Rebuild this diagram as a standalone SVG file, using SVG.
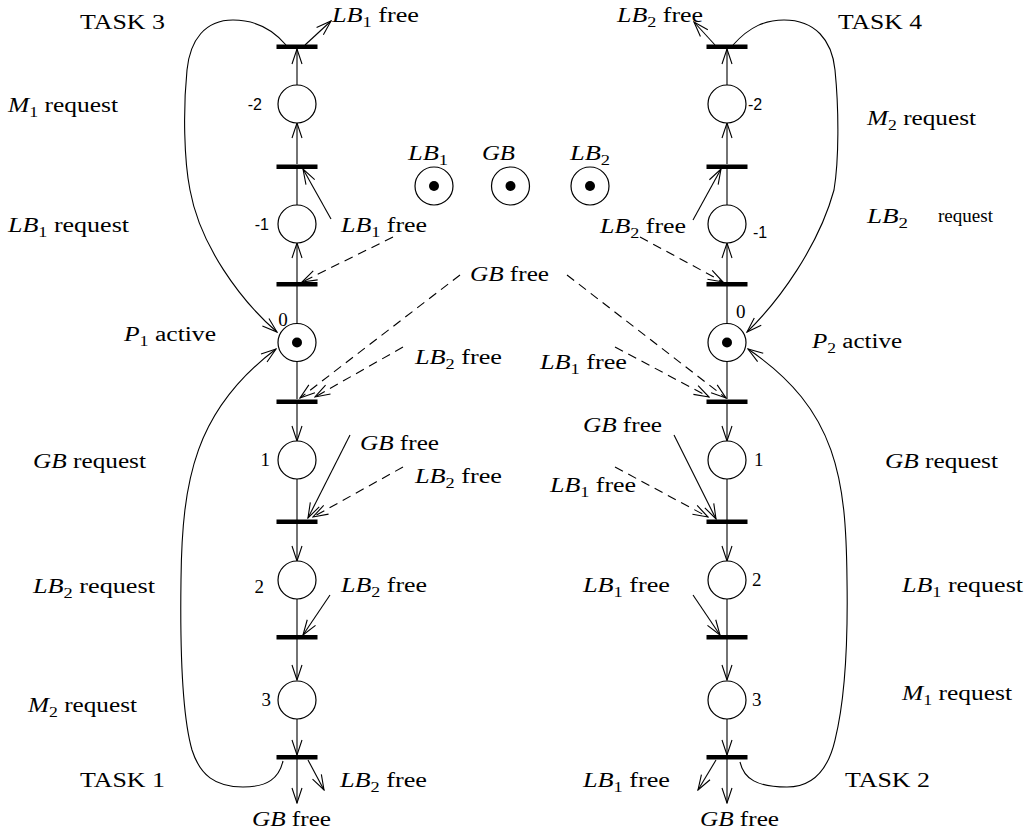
<svg xmlns="http://www.w3.org/2000/svg" width="1030" height="838" viewBox="0 0 1030 838">
<style>
.t{font-family:"Liberation Serif",serif;font-size:20px;fill:#000}
.i{font-style:italic}
.s{font-size:14px}
.n{font-family:"Liberation Serif",serif;font-size:19px;fill:#000}
.ns{font-family:"Liberation Sans",sans-serif;font-size:16px;fill:#000}
.r{font-family:"Liberation Serif",serif;font-size:19px;fill:#000}
.pl{fill:#fff;stroke:#000;stroke-width:1.2}
.tr{fill:#000}
.tok{fill:#000}
.e{fill:none;stroke:#000;stroke-width:1.1}
.a{marker-end:url(#ah)}
.d{stroke-dasharray:9,6}
</style>
<defs>
<marker id="ah" viewBox="-17 -7 18 14" refX="0" refY="0" markerWidth="18" markerHeight="14" markerUnits="userSpaceOnUse" orient="auto">
<path d="M-15,-5 L0,0 L-15,5" fill="none" stroke="#000" stroke-width="1.1"/>
</marker>
</defs>
<g id="connectors">
<path class="e a" d="M286,45 C270,26 252,20 233,20 C205,20 190,40 187,70 C183,110 184,160 190,190 C200,245 240,300 277,332"/>
<path class="e a" d="M283,761 C279,778 268,787 243,787 C215,787 200,775 192,750 C182,715 180,650 181,580 C182,480 195,410 276,349"/>
<path class="e a" d="M733,45 C750,26 766,20 784,20 C815,20 832,40 835,70 C839,110 839,160 834,190 C819,245 780,300 747,332"/>
<path class="e a" d="M740,762 C744,779 757,787 787,787 C812,787 828,770 835,740 C845,700 848,640 847,580 C846,480 838,410 748,349"/>
<line class="e a" x1="297" y1="85" x2="297" y2="49"/>
<line class="e a" x1="297" y1="164" x2="297" y2="123"/>
<line class="e" x1="297" y1="205" x2="297" y2="169"/>
<line class="e a" x1="297" y1="282" x2="297" y2="243"/>
<line class="e" x1="297" y1="323" x2="297" y2="286"/>
<line class="e" x1="297" y1="362" x2="297" y2="399"/>
<line class="e a" x1="297" y1="404" x2="297" y2="441"/>
<line class="e" x1="297" y1="479" x2="297" y2="520"/>
<line class="e a" x1="297" y1="524" x2="297" y2="561"/>
<line class="e" x1="297" y1="599" x2="297" y2="635"/>
<line class="e a" x1="297" y1="639" x2="297" y2="680"/>
<line class="e a" x1="297" y1="719" x2="297" y2="755"/>
<line class="e a" x1="297" y1="759" x2="297" y2="803"/>
<line class="e a" x1="727" y1="85" x2="727" y2="49"/>
<line class="e a" x1="727" y1="164" x2="727" y2="123"/>
<line class="e" x1="727" y1="205" x2="727" y2="169"/>
<line class="e a" x1="727" y1="282" x2="727" y2="243"/>
<line class="e" x1="727" y1="323" x2="727" y2="286"/>
<line class="e" x1="727" y1="362" x2="727" y2="399"/>
<line class="e a" x1="727" y1="404" x2="727" y2="441"/>
<line class="e" x1="727" y1="479" x2="727" y2="520"/>
<line class="e a" x1="727" y1="524" x2="727" y2="561"/>
<line class="e" x1="727" y1="599" x2="727" y2="635"/>
<line class="e a" x1="727" y1="639" x2="727" y2="680"/>
<line class="e a" x1="727" y1="719" x2="727" y2="755"/>
<line class="e a" x1="727" y1="759" x2="727" y2="803"/>
<line class="e a" x1="305" y1="45" x2="331" y2="21"/>
<line class="e a" x1="331" y1="219" x2="303" y2="169"/>
<line class="e d a" x1="393" y1="237" x2="302" y2="282"/>
<line class="e d a" x1="460" y1="275" x2="300" y2="398"/>
<line class="e d a" x1="403" y1="347" x2="315" y2="397"/>
<line class="e a" x1="350" y1="435" x2="308" y2="518"/>
<line class="e d a" x1="403" y1="467" x2="313" y2="517"/>
<line class="e a" x1="330" y1="595" x2="303" y2="635"/>
<line class="e a" x1="308" y1="760" x2="324" y2="790"/>
<line class="e a" x1="715" y1="45" x2="694" y2="22"/>
<line class="e a" x1="693" y1="220" x2="721" y2="169"/>
<line class="e d a" x1="640" y1="237" x2="723" y2="282"/>
<line class="e d a" x1="567" y1="275" x2="726" y2="398"/>
<line class="e d a" x1="615" y1="347" x2="709" y2="397"/>
<line class="e a" x1="674" y1="435" x2="716" y2="519"/>
<line class="e d a" x1="615" y1="467" x2="708" y2="517"/>
<line class="e a" x1="693" y1="595" x2="720" y2="635"/>
<line class="e a" x1="716" y1="760" x2="698" y2="790"/>
</g>
<g id="t1_top"><rect class="tr" x="276.5" y="44.5" width="41" height="4.5"/></g>
<g id="p1_m2"><circle class="pl" cx="297" cy="104" r="19"/><text class="ns" x="262" y="110" text-anchor="end">-2</text></g>
<g id="t1_m2"><rect class="tr" x="276.5" y="164.5" width="41" height="4.5"/></g>
<g id="p1_m1"><circle class="pl" cx="297" cy="224" r="19"/><text class="ns" x="269" y="230" text-anchor="end">-1</text></g>
<g id="t1_m1"><rect class="tr" x="276.5" y="282" width="41" height="4.5"/></g>
<g id="p1_0"><circle class="pl" cx="297" cy="342.5" r="19"/><circle class="tok" cx="297" cy="342.5" r="5"/><text class="n" x="283" y="326" text-anchor="middle">0</text></g>
<g id="t1_0"><rect class="tr" x="276.5" y="399.5" width="41" height="4.5"/></g>
<g id="p1_1"><circle class="pl" cx="297" cy="460" r="19"/><text class="n" x="270" y="466" text-anchor="end">1</text></g>
<g id="t1_1"><rect class="tr" x="276.5" y="519.5" width="41" height="4.5"/></g>
<g id="p1_2"><circle class="pl" cx="297" cy="580" r="19"/><text class="n" x="264" y="593" text-anchor="end">2</text></g>
<g id="t1_2"><rect class="tr" x="276.5" y="635" width="41" height="4.5"/></g>
<g id="p1_3"><circle class="pl" cx="297" cy="700" r="19"/><text class="n" x="271" y="706" text-anchor="end">3</text></g>
<g id="t1_3"><rect class="tr" x="276.5" y="755" width="41" height="4.5"/></g>
<g id="t2_top"><rect class="tr" x="706.5" y="44.5" width="41" height="4.5"/></g>
<g id="p2_m2"><circle class="pl" cx="727" cy="104" r="19"/><text class="ns" x="748" y="110">-2</text></g>
<g id="t2_m2"><rect class="tr" x="706.5" y="164.5" width="41" height="4.5"/></g>
<g id="p2_m1"><circle class="pl" cx="727" cy="224" r="19"/><text class="ns" x="753" y="238">-1</text></g>
<g id="t2_m1"><rect class="tr" x="706.5" y="282" width="41" height="4.5"/></g>
<g id="p2_0"><circle class="pl" cx="727" cy="342.5" r="19"/><circle class="tok" cx="727" cy="342.5" r="5"/><text class="n" x="736" y="318">0</text></g>
<g id="t2_0"><rect class="tr" x="706.5" y="399.5" width="41" height="4.5"/></g>
<g id="p2_1"><circle class="pl" cx="727" cy="460" r="19"/><text class="n" x="754" y="466">1</text></g>
<g id="t2_1"><rect class="tr" x="706.5" y="519.5" width="41" height="4.5"/></g>
<g id="p2_2"><circle class="pl" cx="727" cy="580" r="19"/><text class="n" x="752" y="586">2</text></g>
<g id="t2_2"><rect class="tr" x="706.5" y="635" width="41" height="4.5"/></g>
<g id="p2_3"><circle class="pl" cx="727" cy="700" r="19"/><text class="n" x="752" y="706">3</text></g>
<g id="t2_3"><rect class="tr" x="706.5" y="755" width="41" height="4.5"/></g>
<g id="res_LB1"><circle class="pl" cx="434" cy="186" r="19"/><circle class="tok" cx="434" cy="186" r="5"/><text class="t" x="408" y="160" textLength="40" lengthAdjust="spacingAndGlyphs"><tspan class="i">LB</tspan><tspan class="s" dy="5">1</tspan></text></g>
<g id="res_GB"><circle class="pl" cx="510.5" cy="186" r="19"/><circle class="tok" cx="510.5" cy="186" r="5"/><text class="t i" x="482" y="160" textLength="33" lengthAdjust="spacingAndGlyphs">GB</text></g>
<g id="res_LB2"><circle class="pl" cx="590" cy="186" r="19"/><circle class="tok" cx="590" cy="186" r="5"/><text class="t" x="570" y="160" textLength="40" lengthAdjust="spacingAndGlyphs"><tspan class="i">LB</tspan><tspan class="s" dy="5">2</tspan></text></g>
<g id="labels">
<text class="t" x="80" y="29" textLength="85" lengthAdjust="spacingAndGlyphs">TASK 3</text>
<text class="t" x="838" y="29" textLength="84" lengthAdjust="spacingAndGlyphs">TASK 4</text>
<text class="t" x="80" y="787" textLength="85" lengthAdjust="spacingAndGlyphs">TASK 1</text>
<text class="t" x="845" y="787" textLength="85" lengthAdjust="spacingAndGlyphs">TASK 2</text>
<text class="t" x="8" y="112" textLength="110" lengthAdjust="spacingAndGlyphs"><tspan class="i">M</tspan><tspan class="s" dy="5">1</tspan><tspan dy="-5"> request</tspan></text>
<text class="t" x="8" y="232" textLength="121" lengthAdjust="spacingAndGlyphs"><tspan class="i">LB</tspan><tspan class="s" dy="5">1</tspan><tspan dy="-5"> request</tspan></text>
<text class="t" x="124" y="341" textLength="92" lengthAdjust="spacingAndGlyphs"><tspan class="i">P</tspan><tspan class="s" dy="5">1</tspan><tspan dy="-5"> active</tspan></text>
<text class="t" x="33" y="468" textLength="113" lengthAdjust="spacingAndGlyphs"><tspan class="i">GB</tspan> request</text>
<text class="t" x="33" y="593" textLength="122" lengthAdjust="spacingAndGlyphs"><tspan class="i">LB</tspan><tspan class="s" dy="5">2</tspan><tspan dy="-5"> request</tspan></text>
<text class="t" x="28" y="712" textLength="109" lengthAdjust="spacingAndGlyphs"><tspan class="i">M</tspan><tspan class="s" dy="5">2</tspan><tspan dy="-5"> request</tspan></text>
<text class="t" x="867" y="125" textLength="109" lengthAdjust="spacingAndGlyphs"><tspan class="i">M</tspan><tspan class="s" dy="5">2</tspan><tspan dy="-5"> request</tspan></text>
<text class="t" x="867" y="223" textLength="41" lengthAdjust="spacingAndGlyphs"><tspan class="i">LB</tspan><tspan class="s" dy="5">2</tspan></text>
<text class="r" x="938" y="222" textLength="55" lengthAdjust="spacingAndGlyphs">request</text>
<text class="t" x="812" y="348" textLength="90" lengthAdjust="spacingAndGlyphs"><tspan class="i">P</tspan><tspan class="s" dy="5">2</tspan><tspan dy="-5"> active</tspan></text>
<text class="t" x="885" y="468" textLength="113" lengthAdjust="spacingAndGlyphs"><tspan class="i">GB</tspan> request</text>
<text class="t" x="902" y="592" textLength="121" lengthAdjust="spacingAndGlyphs"><tspan class="i">LB</tspan><tspan class="s" dy="5">1</tspan><tspan dy="-5"> request</tspan></text>
<text class="t" x="902" y="700" textLength="110" lengthAdjust="spacingAndGlyphs"><tspan class="i">M</tspan><tspan class="s" dy="5">1</tspan><tspan dy="-5"> request</tspan></text>
</g>
<g id="free_labels">
<text class="t" x="332" y="22" textLength="87" lengthAdjust="spacingAndGlyphs"><tspan class="i">LB</tspan><tspan class="s" dy="5">1</tspan><tspan dy="-5"> free</tspan></text>
<text class="t" x="617" y="22" textLength="86" lengthAdjust="spacingAndGlyphs"><tspan class="i">LB</tspan><tspan class="s" dy="5">2</tspan><tspan dy="-5"> free</tspan></text>
<text class="t" x="341" y="232" textLength="86" lengthAdjust="spacingAndGlyphs"><tspan class="i">LB</tspan><tspan class="s" dy="5">1</tspan><tspan dy="-5"> free</tspan></text>
<text class="t" x="600" y="233" textLength="86" lengthAdjust="spacingAndGlyphs"><tspan class="i">LB</tspan><tspan class="s" dy="5">2</tspan><tspan dy="-5"> free</tspan></text>
<text class="t" x="470" y="281" textLength="79" lengthAdjust="spacingAndGlyphs"><tspan class="i">GB</tspan> free</text>
<text class="t" x="415" y="364" textLength="87" lengthAdjust="spacingAndGlyphs"><tspan class="i">LB</tspan><tspan class="s" dy="5">2</tspan><tspan dy="-5"> free</tspan></text>
<text class="t" x="540" y="369" textLength="87" lengthAdjust="spacingAndGlyphs"><tspan class="i">LB</tspan><tspan class="s" dy="5">1</tspan><tspan dy="-5"> free</tspan></text>
<text class="t" x="360" y="450" textLength="79" lengthAdjust="spacingAndGlyphs"><tspan class="i">GB</tspan> free</text>
<text class="t" x="583" y="432" textLength="79" lengthAdjust="spacingAndGlyphs"><tspan class="i">GB</tspan> free</text>
<text class="t" x="415" y="483" textLength="87" lengthAdjust="spacingAndGlyphs"><tspan class="i">LB</tspan><tspan class="s" dy="5">2</tspan><tspan dy="-5"> free</tspan></text>
<text class="t" x="550" y="492" textLength="86" lengthAdjust="spacingAndGlyphs"><tspan class="i">LB</tspan><tspan class="s" dy="5">1</tspan><tspan dy="-5"> free</tspan></text>
<text class="t" x="341" y="592" textLength="86" lengthAdjust="spacingAndGlyphs"><tspan class="i">LB</tspan><tspan class="s" dy="5">2</tspan><tspan dy="-5"> free</tspan></text>
<text class="t" x="583" y="592" textLength="87" lengthAdjust="spacingAndGlyphs"><tspan class="i">LB</tspan><tspan class="s" dy="5">1</tspan><tspan dy="-5"> free</tspan></text>
<text class="t" x="340" y="787" textLength="87" lengthAdjust="spacingAndGlyphs"><tspan class="i">LB</tspan><tspan class="s" dy="5">2</tspan><tspan dy="-5"> free</tspan></text>
<text class="t" x="252" y="826" textLength="79" lengthAdjust="spacingAndGlyphs"><tspan class="i">GB</tspan> free</text>
<text class="t" x="583" y="787" textLength="87" lengthAdjust="spacingAndGlyphs"><tspan class="i">LB</tspan><tspan class="s" dy="5">1</tspan><tspan dy="-5"> free</tspan></text>
<text class="t" x="700" y="826" textLength="79" lengthAdjust="spacingAndGlyphs"><tspan class="i">GB</tspan> free</text>
</g>
</svg>
